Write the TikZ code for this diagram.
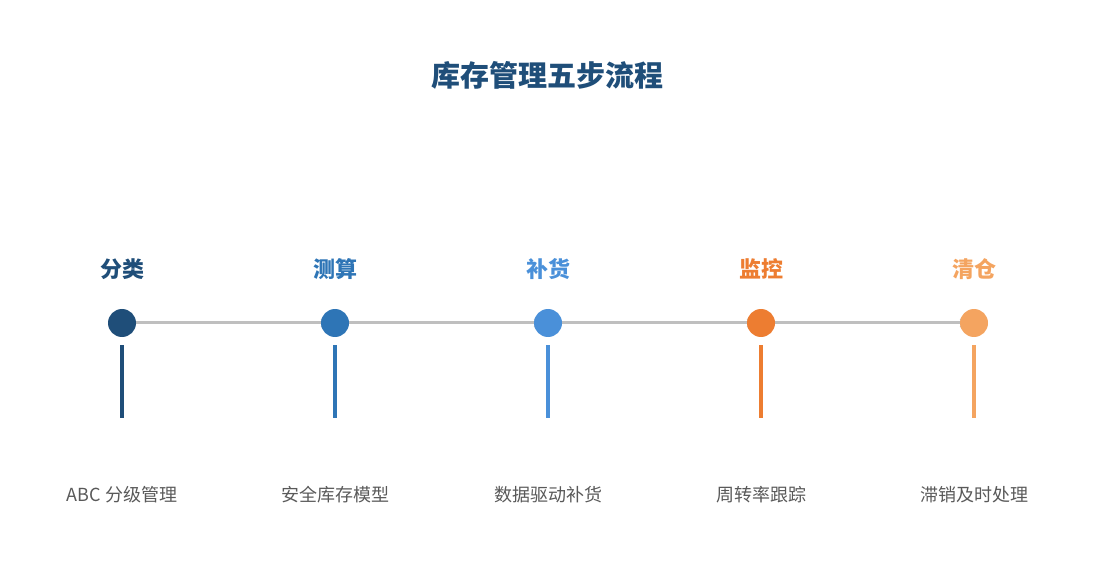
\documentclass[tikz,border=0pt]{standalone}
\usepackage{fontspec}
\setmainfont{Noto Sans CJK SC}
\usetikzlibrary{arrows.meta}
\definecolor{c1}{HTML}{1F4E79}
\definecolor{c2}{HTML}{2E75B6}
\definecolor{c3}{HTML}{4A90D9}
\definecolor{c4}{HTML}{ED7D31}
\definecolor{c5}{HTML}{F4A460}
\definecolor{lg}{HTML}{BFBFBF}
\definecolor{tx}{HTML}{595959}
\begin{document}
\begin{tikzpicture}[x=1pt,y=-1pt,
  dot/.style={circle,fill=#1,minimum size=28pt,inner sep=0pt},
  head/.style={text=#1,font=\fontsize{22}{24}\selectfont\bfseries},
  bar/.style={draw=#1,line width=3.5pt},
  desc/.style={text=tx,font=\fontsize{18}{20}\selectfont},
  conn/.style={draw=lg,line width=3pt,-{Straight Barb[length=5pt,width=9pt]}}]
\useasboundingbox (0,0) rectangle (1095,585);
\node[text=c1,font=\fontsize{29}{32}\selectfont\bfseries] (title) at (547,75) {库存管理五步流程};
\foreach \i/\x/\c/\h/\d in {1/122/c1/分类/ABC 分级管理,2/335/c2/测算/安全库存模型,3/548/c3/补货/数据驱动补货,4/761/c4/监控/周转率跟踪,5/974/c5/清仓/滞销及时处理}{
  \node[head=\c] (h\i) at (\x,269) {\h};
  \coordinate (t\i) at (\x,345);
  \coordinate (b\i) at (\x,418);
  \draw[bar=\c] (t\i) -- (b\i);
  \node[desc] (d\i) at (\x,495) {\d};
}
\foreach \i/\x in {1/122,2/335,3/548,4/761,5/974}{\coordinate (p\i) at (\x,323);}
\foreach \a/\b in {1/2,2/3,3/4,4/5}{\draw[conn] ([xshift=14pt]p\a) -- ([xshift=-6pt]p\b);}
\foreach \i/\c in {1/c1,2/c2,3/c3,4/c4,5/c5}{\node[dot=\c] (n\i) at (p\i) {};}
\end{tikzpicture}
\end{document}
